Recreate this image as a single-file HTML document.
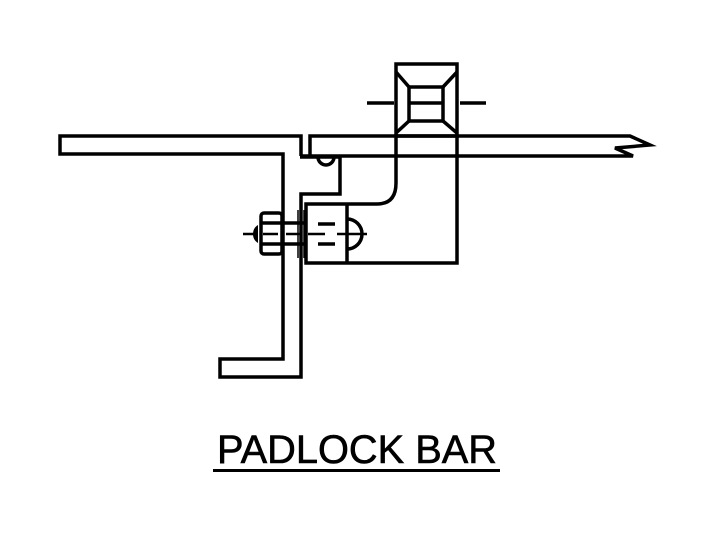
<!DOCTYPE html>
<html><head><style>html,body{margin:0;padding:0;background:#fff;}svg{display:block}</style></head>
<body>
<svg width="717" height="555" viewBox="0 0 717 555" xmlns="http://www.w3.org/2000/svg">
<g fill="none" stroke="#000" stroke-width="3.5" stroke-linejoin="miter" stroke-linecap="butt">
<path d="M301,156 L301,136 L60,136 L60,154 L283,154 L283,359 L220,359 L220,377 L301,377 L301,194 L340,194 L340,157 L300,157"/>
<path d="M310,157 L310,136 L630,136 L650,145 L615,148 L633,156 L300,156"/>
<path d="M318,157 A8,8 0 0 0 334,157"/>
<rect x="396" y="64" width="61" height="72"/>
<rect x="409" y="87" width="34" height="34"/>
<path d="M396,72 L409,87 M457,72 L443,87 M396,133 L409,121 M457,133 L443,121"/>
<path d="M367,103 L394,103 M409,103 L443,103 M460,103 L486,103"/>
<path d="M457,136 L457,263 L306,263 L306,204 L377,204 Q396,204 396,183 L396,136"/>
<path d="M347,204 L347,263"/>
<path d="M347,219 A15,15 0 0 1 347,249"/>
<path d="M282,223 L306,223 M282,244 L306,244"/>
<path d="M318,224 L335,224 M318,244 L335,244"/>
<path d="M243,234 L255,234 M263,234 L278,234 M286,234 L300,234 M308,234 L325,234 M337,234 L367,234" stroke-width="2.5"/>
<rect x="261" y="213" width="21" height="41" rx="3"/>
<path d="M261,223 L282,223 M261,244 L282,244"/>
<path d="M298,210 L298,258 M304,210 L304,258" stroke-width="1.5"/>
</g>
<path d="M258,225 Q253,228 253,234 Q253,240 258,243 Z" fill="#000"/>
<text x="357" y="463" font-family="'Liberation Sans', sans-serif" font-size="40" text-anchor="middle" textLength="280" lengthAdjust="spacingAndGlyphs" stroke="#000" stroke-width="0.6">PADLOCK BAR</text>
<rect x="213" y="469" width="287" height="3" fill="#000"/>
</svg>
</body></html>
